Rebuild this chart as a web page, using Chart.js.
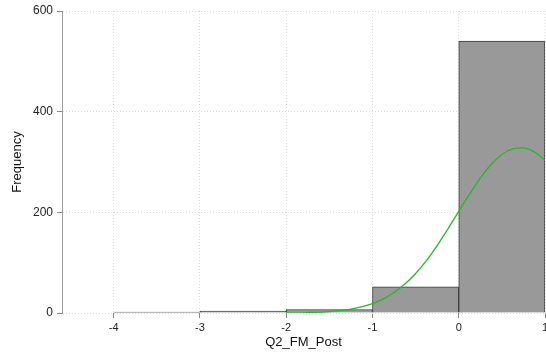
<!DOCTYPE html>
<html>
<head>
<meta charset="utf-8">
<script src="https://cdn.jsdelivr.net/npm/chart.js@4"></script>
<style>
  html, body { margin: 0; padding: 0; background: #fff; }
  #chart { display: block; }
</style>
</head>
<body>
<canvas id="chart" width="546" height="353"></canvas>
<script>
// Histogram bins (lower edges) and counts
const binStarts = [-4, -3, -2, -1, 0];
const binWidth = 1;
const frequency = [2, 4, 7, 52, 540];

// Normal density overlay
const curveX = [-2, -1.75, -1.5, -1.25, -1, -0.875, -0.75, -0.625, -0.5, -0.375, -0.25, -0.125,
  0, 0.125, 0.25, 0.375, 0.5, 0.625, 0.75, 0.875, 1];
const curveY = [0.2, 0.9, 2.7, 7.5, 18.7, 28, 40.8, 57.5, 78.6, 104, 134, 167,
  202, 236, 268, 295, 315, 326, 328, 320, 304];

const xTicks = [-4, -3, -2, -1, 0, 1];
const yTicks = [0, 200, 400, 600];

const fontFamily = 'Liberation Sans, Arial, Helvetica, sans-serif';

document.addEventListener('DOMContentLoaded', function() {
  const ctx = document.getElementById('chart');

  new Chart(ctx, {
    type: 'bar',
    data: {
      datasets: [
        {
          type: 'line',
          data: curveX.map((x, i) => ({ x: x, y: curveY[i] })),
          borderColor: '#2cb52c',
          borderWidth: 1.3,
          pointRadius: 0,
          fill: false,
          cubicInterpolationMode: 'monotone',
          order: 0
        },
        {
          type: 'bar',
          data: binStarts.map((b, i) => ({ x: b + binWidth / 2, y: frequency[i] })),
          backgroundColor: '#999999',
          borderColor: '#3a3a3a',
          borderWidth: 1,
          barPercentage: 1,
          categoryPercentage: 1,
          order: 1
        }
      ]
    },
    options: {
      responsive: false,
      animation: false,
      layout: {
        padding: { top: 11, right: 1, left: 0, bottom: 0 }
      },
      scales: {
        x: {
          type: 'linear',
          min: -4.6,
          max: 1,
          offset: false,
          afterBuildTicks: function(scale) {
            scale.ticks = xTicks.map(v => ({ value: v }));
          },
          afterFit: function(scale) {
            scale.height = 40;
            scale.paddingLeft = 0;
            scale.paddingRight = 0;
          },
          border: { display: false, dash: [1, 2] },
          grid: {
            offset: false,
            color: '#dcdcdc',
            tickColor: '#888',
            tickLength: 5,
            drawTicks: true
          },
          ticks: {
            color: '#222',
            padding: 3,
            maxRotation: 0,
            autoSkip: false,
            font: { family: fontFamily, size: 11 },
            callback: function(v) { return v; }
          },
          title: {
            display: true,
            text: 'Q2_FM_Post',
            color: '#111',
            font: { family: fontFamily, size: 13 },
            padding: { top: 0, bottom: 3 }
          }
        },
        y: {
          min: 0,
          max: 600,
          afterBuildTicks: function(scale) {
            scale.ticks = yTicks.map(v => ({ value: v }));
          },
          afterFit: function(scale) {
            scale.width = 62;
            scale.paddingTop = 0;
            scale.paddingBottom = 0;
          },
          border: { display: true, color: '#9a9a9a', width: 1, dash: [1, 2] },
          grid: {
            color: '#dcdcdc',
            tickColor: '#888',
            tickLength: 5
          },
          ticks: {
            color: '#222',
            padding: 4,
            font: { family: fontFamily, size: 12 }
          },
          title: {
            display: true,
            text: 'Frequency',
            color: '#111',
            font: { family: fontFamily, size: 13 },
            padding: { top: 10, bottom: 0 }
          }
        }
      },
      plugins: {
        legend: { display: false },
        tooltip: { enabled: false }
      }
    }
  });
});
</script>
</body>
</html>
